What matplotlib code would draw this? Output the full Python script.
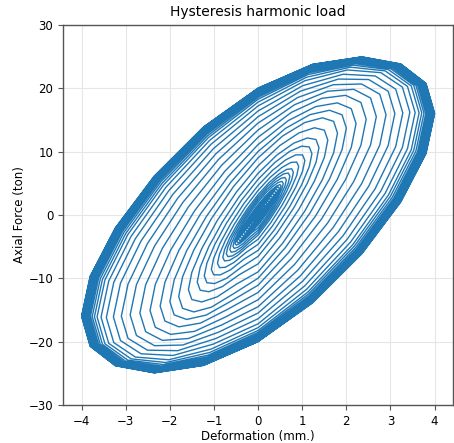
import numpy as np
import matplotlib
matplotlib.use("Agg")
import matplotlib.pyplot as plt

# ─────────────────────────────────────────────────────
# DATA — one entry per load cycle
# ─────────────────────────────────────────────────────

# peak deformation of each cycle (mm)
deform_amp = [0.04, 0.08, 0.12, 0.16, 0.20, 0.24, 0.28, 0.32, 0.36, 0.40,
              0.44, 0.48, 0.52,
              0.57, 0.64, 0.72, 0.80, 0.92, 1.06, 1.22, 1.38, 1.58, 1.80,
              2.00, 2.22, 2.45, 2.68, 2.90, 3.10, 3.28, 3.44, 3.56, 3.65,
              3.71, 3.76, 3.80, 3.83, 3.86, 3.88, 3.90, 3.92, 3.94, 3.95,
              3.96, 3.97, 3.98, 3.99, 4.00, 4.00]

# axial force when deformation is at its peak (ton)
force_at_peak = [0.35, 0.70, 1.05, 1.40, 1.76, 2.11, 2.46, 2.82, 3.17, 3.52,
                 3.87, 4.22, 4.56,
                 4.96, 5.50, 6.12, 6.72, 7.64, 8.59, 9.64, 10.6, 11.8, 12.9,
                 13.7, 14.4, 15.1, 15.5, 15.8, 16.0, 16.1, 16.2, 16.15, 16.1,
                 16.1, 16.05, 16.0, 16.0, 16.0, 16.0, 16.0, 16.0, 16.0, 16.0,
                 16.0, 16.0, 16.0, 16.0, 16.0, 16.0]

# axial force when deformation crosses zero (ton)
force_at_zero = [0.12, 0.24, 0.36, 0.48, 0.60, 0.72, 0.84, 0.96, 1.08, 1.20,
                 1.32, 1.44, 1.60,
                 2.05, 2.43, 2.81, 3.20, 3.86, 4.66, 5.61, 6.56, 7.74, 9.0,
                 10.0, 11.1, 12.25, 13.4, 14.5, 15.5, 16.4, 17.2, 17.8, 18.25,
                 18.55, 18.8, 19.0, 19.15, 19.3, 19.4, 19.5, 19.6, 19.7, 19.75,
                 19.8, 19.85, 19.9, 19.95, 20.0, 20.0]

STEPS_PER_CYCLE = 20
THIRD_HARMONIC = 0.03   # small distortion of the loop, relative to force_at_zero

# ─────────────────────────────────────────────────────
# TIME HISTORY (harmonic load, fixed time step)
# ─────────────────────────────────────────────────────

n_cycles = len(deform_amp)
k = np.arange(n_cycles * STEPS_PER_CYCLE + 1)
theta = 2 * np.pi * k / STEPS_PER_CYCLE
cycle = np.minimum(k // STEPS_PER_CYCLE, n_cycles - 1)

A = np.array(deform_amp)[cycle]
Fk = np.array(force_at_peak)[cycle]
Fc = np.array(force_at_zero)[cycle] / (1 + THIRD_HARMONIC)

deformation = A * np.sin(theta)
force = Fk * np.sin(theta) - Fc * (np.cos(theta) + THIRD_HARMONIC * np.cos(3 * theta))

# ─────────────────────────────────────────────────────
# PLOT
# ─────────────────────────────────────────────────────

fig = plt.figure(figsize=(4.54, 4.43), dpi=100)
ax = fig.add_axes([0.139, 0.086, 0.859, 0.858])

ax.plot(deformation, force, color="#1f77b4", linewidth=1.0)

ax.set_xlim(-4.42, 4.42)
ax.set_ylim(-30, 30)
ax.set_xticks(range(-4, 5))
ax.set_yticks(range(-30, 31, 10))

ax.grid(True, color="#e6e6e6", linewidth=0.8)
ax.set_axisbelow(True)
for s in ax.spines.values():
    s.set_color("#555555")
    s.set_linewidth(1.0)
ax.tick_params(labelsize=8.5, length=3.5, color="#555555")

ax.set_title("Hysteresis harmonic load", fontsize=10)
ax.set_xlabel("Deformation (mm.)", fontsize=8.5, labelpad=2)
ax.set_ylabel("Axial Force (ton)", fontsize=8.5, labelpad=2)

fig.savefig("out.png", dpi=100)
